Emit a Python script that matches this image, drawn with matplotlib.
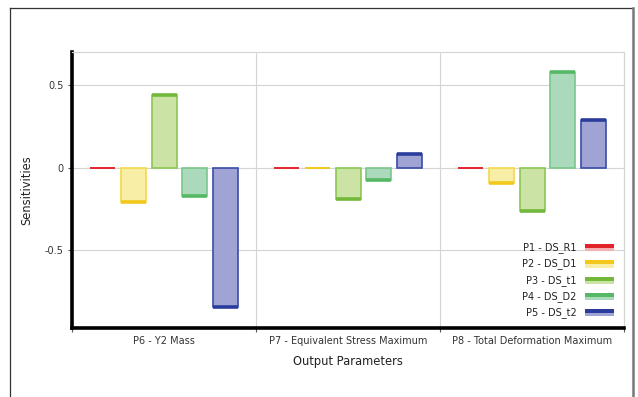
import matplotlib
matplotlib.use('Agg')
import matplotlib.pyplot as plt
import numpy as np
from matplotlib.lines import Line2D
from matplotlib.patches import Rectangle
from matplotlib.legend_handler import HandlerBase

plt.rcParams.update({'font.size': 7, 'font.family': 'DejaVu Sans'})

# Data
outputs = ['P6 - Y2 Mass', 'P7 - Equivalent Stress Maximum', 'P8 - Total Deformation Maximum']
inputs = ['P1 - DS_R1', 'P2 - DS_D1', 'P3 - DS_t1', 'P4 - DS_D2', 'P5 - DS_t2']
sens = {
    'P1 - DS_R1': [0.0, 0.0, 0.0],
    'P2 - DS_D1': [-0.21, 0.0, -0.095],
    'P3 - DS_t1': [0.438, -0.19, -0.26],
    'P4 - DS_D2': [-0.17, -0.075, 0.578],
    'P5 - DS_t2': [-0.84, 0.083, 0.287],
}
dark = ['#e2242a', '#f2c81c', '#72b83a', '#55b865', '#2a3d9c']
edge = ['#e8484c', '#f5d84a', '#8cc851', '#78c88a', '#3a4ca8']
fill = ['#f4b0b0', '#f8eea6', '#cbe3a5', '#aad9bb', '#a0a4d4']


class TwoToneHandler(HandlerBase):
    # legend swatch: dark band on top of a lighter band
    def create_artists(self, legend, orig_handle, xdescent, ydescent,
                       width, height, fontsize, trans):
        c_dark, c_light = orig_handle
        x0, y0 = -xdescent, -ydescent
        low = Rectangle((x0, y0 - height * 0.2), width, height * 0.55,
                        facecolor=c_light, edgecolor='none', transform=trans)
        top = Rectangle((x0, y0 + height * 0.3), width, height * 0.6,
                        facecolor=c_dark, edgecolor='none', transform=trans)
        return [low, top]


fig = plt.figure(figsize=(6.38, 3.97), dpi=100)
ax = fig.add_axes([0.1129, 0.1738, 0.8652, 0.6952])

centers = np.arange(len(outputs)) + 0.5
offsets = np.array([-2, -1, 0, 1, 2]) * 0.166
width = 0.136

for i, name in enumerate(inputs):
    vals = np.array(sens[name])
    xs = centers + offsets[i]
    ax.bar(xs, vals, width=width, color=fill[i], edgecolor=edge[i], linewidth=1.2, zorder=3)
    # darker band at the end of each bar, thin where the value is ~0
    lws = np.where(np.abs(vals) < 0.01, 1.3, 2.6)
    ax.hlines(vals, xs - width / 2, xs + width / 2, color=dark[i], linewidth=lws, zorder=4)

ax.set_xlim(0, 3)
ax.set_ylim(-0.97, 0.7)
ax.set_yticks([-0.5, 0, 0.5])
ax.set_yticklabels(['-0.5', '0', '0.5'])
ax.set_xticks([0, 1, 2, 3])
ax.set_xticklabels([])
ax.set_xticks(centers, minor=True)
ax.set_xticklabels(outputs, minor=True)
ax.tick_params(axis='x', which='minor', length=0, pad=6)
ax.tick_params(axis='x', which='major', length=3, width=0.8, color='#555555')
ax.tick_params(axis='y', length=3, width=0.8, color='#555555', pad=3)
for lbl in ax.get_xticklabels(minor=True) + ax.get_yticklabels():
    lbl.set_color('#333333')

ax.grid(True, axis='both', which='major', color='#d4d4d4', linewidth=0.8, zorder=0)
for s in ['top', 'right']:
    ax.spines[s].set_color('#d4d4d4')
    ax.spines[s].set_linewidth(0.8)
for s in ['left', 'bottom']:
    ax.spines[s].set_color('black')
    ax.spines[s].set_linewidth(2.6)

ax.set_xlabel('Output Parameters', fontsize=8.3, color='#222222', labelpad=6)
ax.set_ylabel('Sensitivities', fontsize=8.3, color='#222222', labelpad=8)

handles = [(d, f) for d, f in zip(dark, fill)]
leg = ax.legend(handles, inputs, handler_map={tuple: TwoToneHandler()},
                loc='lower right', markerfirst=False, frameon=False,
                fontsize=7, handlelength=2.9, handletextpad=0.9, labelspacing=0.55,
                borderaxespad=0.0, bbox_to_anchor=(0.988, 0.022))
for t in leg.get_texts():
    t.set_color('#222222')

# outer frame
fig.add_artist(Line2D([10 / 638, 10 / 638], [0, 1 - 8 / 397], color='#333333', linewidth=0.9))
fig.add_artist(Line2D([10 / 638, 633 / 638], [1 - 8 / 397, 1 - 8 / 397], color='#333333', linewidth=0.9))
fig.add_artist(Line2D([633 / 638, 633 / 638], [0, 1 - 8 / 397], color='#777777', linewidth=1.8))

fig.savefig('out.png', dpi=100)
